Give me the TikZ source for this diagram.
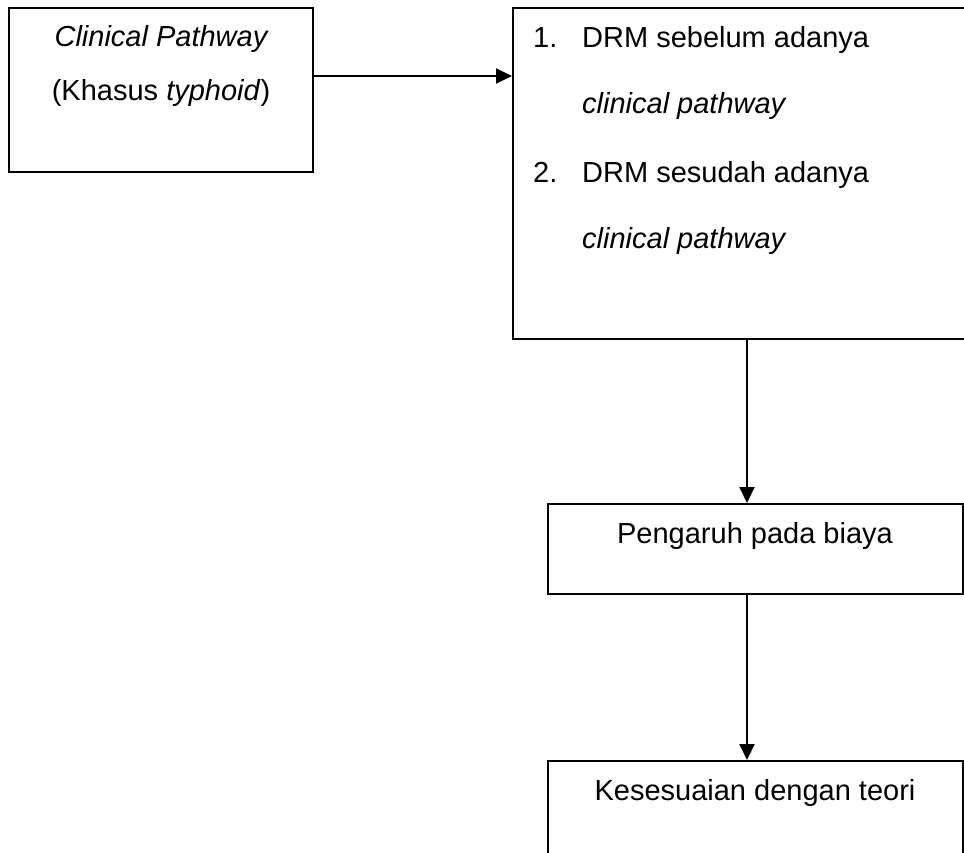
\documentclass[tikz,border=0pt]{standalone}
\usepackage{fontspec}
\setmainfont{Liberation Sans}
\usetikzlibrary{arrows.meta}
\begin{document}
\begin{tikzpicture}[x=1pt,y=-1pt,
  box/.style={draw=black, line width=2pt, rectangle, inner sep=0pt, fill=none},
  lbl/.style={inner sep=0pt, font=\fontsize{29}{34}\selectfont},
  arr/.style={line width=2pt, -{Triangle[length=16pt,width=15pt]}}]
\useasboundingbox (0,0) rectangle (964,852);
\clip (0,0) rectangle (964,852);
\fill[white] (0,0) rectangle (964,852);
% boxes
\node[box, minimum width=304pt, minimum height=164pt] (A) at (161,90) {};
\node[box, minimum width=487pt, minimum height=331pt] (B) at (756.5,173.5) {};
\node[box, minimum width=415pt, minimum height=90pt] (C) at (755.5,549) {};
\node[box, minimum width=415pt, minimum height=119pt] (D) at (755.5,820.5) {};
% texts
\node[lbl, anchor=base] (a1) at (161,46) {\itshape Clinical Pathway};
\node[lbl, anchor=base] (a2) at (161,100) {(Khasus \textit{typhoid})};
\node[lbl, anchor=base west] (n1) at (533,47) {1.};
\node[lbl, anchor=base west] (b1) at (582,47) {DRM sebelum adanya};
\node[lbl, anchor=base west] (b2) at (582,113) {\itshape clinical pathway};
\node[lbl, anchor=base west] (n2) at (533,182) {2.};
\node[lbl, anchor=base west] (b3) at (582,182) {DRM sesudah adanya};
\node[lbl, anchor=base west] (b4) at (582,248) {\itshape clinical pathway};
\node[lbl, anchor=base] (c1) at (755,543) {Pengaruh pada biaya};
\node[lbl, anchor=base] (d1) at (755,800) {Kesesuaian dengan teori};
% connectors
\draw[arr] ([yshift=14pt]A.east) coordinate (s1) -- (s1 -| B.west);
\draw[arr] ([xshift=-8.5pt]C.north |- B.south) -- ([xshift=-8.5pt]C.north);
\draw[arr] ([xshift=-8.5pt]C.south) -- ([xshift=-8.5pt]D.north);
\end{tikzpicture}
\end{document}
